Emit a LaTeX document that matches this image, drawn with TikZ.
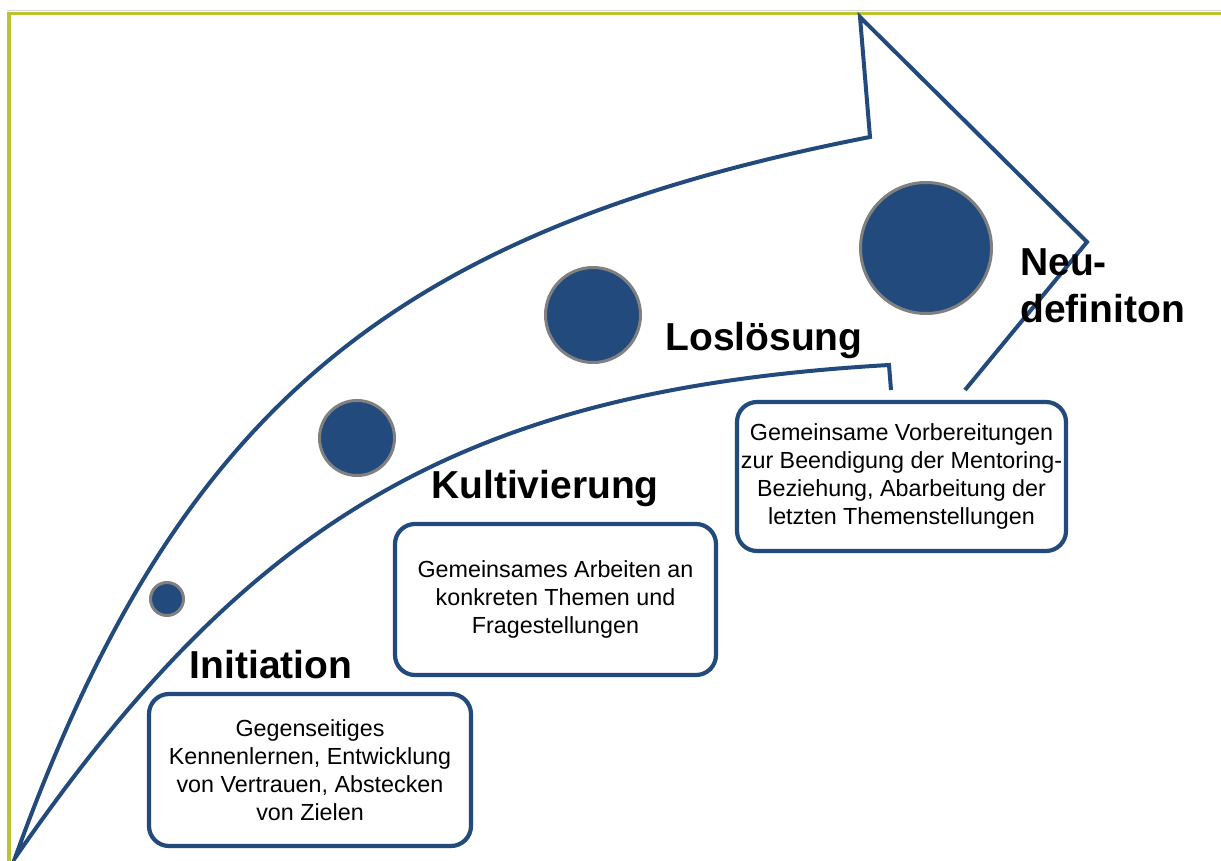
\documentclass[tikz,border=0pt]{standalone}
\usepackage{fontspec}
\setmainfont{Liberation Sans}
\definecolor{arrowblue}{HTML}{224A7C}
\definecolor{framegreen}{HTML}{B9C433}
\definecolor{ringgrey}{HTML}{808080}
\definecolor{shadowgrey}{HTML}{D4D4D4}
\begin{document}
\begin{tikzpicture}[x=1pt,y=-1pt,
  outline/.style={draw=arrowblue, line width=4pt, line join=miter},
  stage/.style={circle, fill=arrowblue, draw=ringgrey, line width=3pt, inner sep=0pt},
  infobox/.style={draw=arrowblue, fill=white, line width=4.2pt, rounded corners=20pt, align=center, inner sep=0pt, font=\fontsize{23.3}{28}\selectfont},
  heading/.style={font=\fontsize{39}{47}\selectfont\bfseries, inner sep=0pt}]
\useasboundingbox (0,0) rectangle (1221,861);
\fill[white] (0,0) rectangle (1221,861);
% frame
\draw[shadowgrey, line width=1pt] (7,11) -- (1221,11);
\draw[framegreen, line width=3.7pt, line join=miter] (9.2,861) -- (9.2,13.5) -- (1221,13.5);
% arrow outline
\coordinate (tail) at (15,858);
\coordinate (outercorner) at (870,137);
\coordinate (headtop) at (860,17);
\coordinate (tip) at (1087,242);
\coordinate (lowend) at (965,390);
\coordinate (innercorner) at (889,365);
\coordinate (innerend) at (891,390);
\draw[outline] (lowend) -- (tip) -- (headtop) -- (outercorner)
  .. controls (390,231) and (176,411) .. (tail)
  .. controls (253.5,512) and (472,389) .. (innercorner) -- (innerend);
% stage circles
\node[stage, minimum size=33pt] (c1) at (167,599) {};
\node[stage, minimum size=75pt] (c2) at (357,438) {};
\node[stage, minimum size=95pt] (c3) at (593,315) {};
\node[stage, minimum size=131pt] (c4) at (926,248) {};
% boxes
\node[infobox, minimum width=322pt, minimum height=152pt] (initbox) at (310,770)
  {Gegenseitiges\\Kennenlernen, Entwicklung\\von Vertrauen, Abstecken\\von Zielen};
\node[infobox, minimum width=321pt, minimum height=151pt] (kultbox) at (555.5,599.5)
  {Gemeinsames Arbeiten an\\konkreten Themen und\\Fragestellungen};
\node[infobox, minimum width=329pt, minimum height=149pt] (losbox) at (901.5,476.5)
  {Gemeinsame Vorbereitungen\\zur Beendigung der Mentoring-\\Beziehung, Abarbeitung der\\letzten Themenstellungen};
% headings
\node[heading, anchor=base] (initiation) at (271,678) {Initiation};
\node[heading, anchor=base] (kultivierung) at (545,498) {Kultivierung};
\node[heading, anchor=base] (losloesung) at (764,350) {Loslösung};
\node[heading, anchor=base west] (neu) at (1020,275) {Neu-};
\node[heading, anchor=base west] (definiton) at (1020,322) {definiton};
\end{tikzpicture}
\end{document}
